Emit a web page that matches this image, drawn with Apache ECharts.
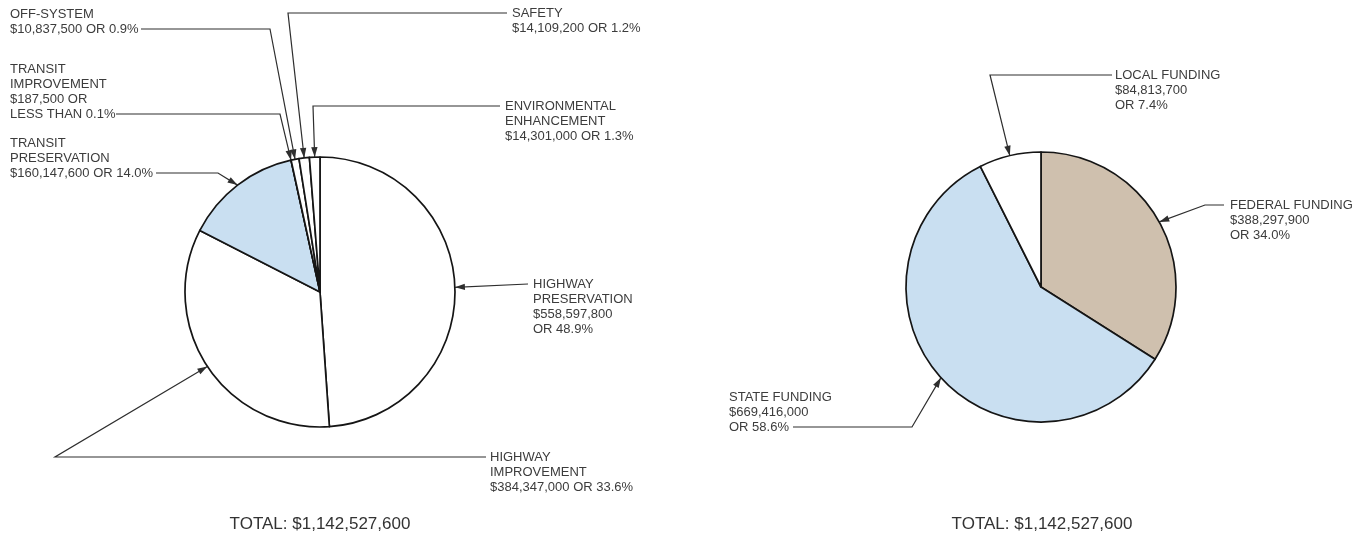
<!DOCTYPE html>
<html>

<head>
  <meta charset="UTF-8">
  <title>Program funding and funding sources</title>
  <script src="https://cdn.jsdelivr.net/npm/echarts@6.0.0/dist/echarts.min.js"></script>
  <style>
    body {
      margin: 0;
      background: #fff;
    }

    #chart {
      width: 1366px;
      height: 535px;
    }
  </style>
</head>

<body>
  <div id="chart"></div>
  <script type="text/javascript">
    // left pie: program categories, clockwise from 12 o'clock
    var programNames = ['HIGHWAY PRESERVATION', 'HIGHWAY IMPROVEMENT', 'TRANSIT PRESERVATION',
      'TRANSIT IMPROVEMENT', 'OFF-SYSTEM', 'SAFETY', 'ENVIRONMENTAL ENHANCEMENT'];
    var programValues = [558597800, 384347000, 160147600, 187500, 10837500, 14109200, 14301000];
    var programLabels = [
      'HIGHWAY\nPRESERVATION\n$558,597,800\nOR 48.9%',
      'HIGHWAY\nIMPROVEMENT\n$384,347,000 OR 33.6%',
      'TRANSIT\nPRESERVATION\n$160,147,600 OR 14.0%',
      'TRANSIT\nIMPROVEMENT\n$187,500 OR\nLESS THAN 0.1%',
      'OFF-SYSTEM\n$10,837,500 OR 0.9%',
      'SAFETY\n$14,109,200 OR 1.2%',
      'ENVIRONMENTAL\nENHANCEMENT\n$14,301,000 OR 1.3%'
    ];
    var programColors = ['#ffffff', '#ffffff', '#c9dff1', '#ffffff', '#ffffff', '#ffffff', '#ffffff'];

    // right pie: funding sources
    var sourceNames = ['FEDERAL FUNDING', 'STATE FUNDING', 'LOCAL FUNDING'];
    var sourceValues = [388297900, 669416000, 84813700];
    var sourceLabels = [
      'FEDERAL FUNDING\n$388,297,900\nOR 34.0%',
      'STATE FUNDING\n$669,416,000\nOR 58.6%',
      'LOCAL FUNDING\n$84,813,700\nOR 7.4%'
    ];
    var sourceColors = ['#cfc0ae', '#c9dff1', '#ffffff'];

    var totalText = 'TOTAL: $1,142,527,600';

    // label top-left corner and the bend/end of each leader line
    var programCallouts = [
      { x: 533, y: 276.5, path: [[528, 284]] },
      { x: 490, y: 449.5, path: [[55, 457], [486, 457]] },
      { x: 10, y: 135.5, path: [[218, 173], [156, 173]] },
      { x: 10, y: 61.5, path: [[280, 114], [116, 114]] },
      { x: 10, y: 6.5, path: [[270, 29], [141, 29]] },
      { x: 512, y: 5.5, path: [[288, 13], [507, 13]] },
      { x: 505, y: 98.5, path: [[313, 106], [500, 106]] }
    ];
    var sourceCallouts = [
      { x: 1230, y: 197.5, path: [[1205, 205], [1224, 205]] },
      { x: 729, y: 389.5, path: [[912, 427], [793, 427]] },
      { x: 1115, y: 67.5, path: [[990, 75], [1112, 75]] }
    ];

    var fontFamily = '"Liberation Sans", Arial, sans-serif';
    var textColor = '#3c3c3c';
    var lineColor = '#2e2e2e';
    var leaders = {};

    var myChart = echarts.init(document.getElementById('chart'));

    function buildData(names, values, colors) {
      return names.map(function (name, i) {
        return { name: name, value: values[i], itemStyle: { color: colors[i] } };
      });
    }

    function placeCallout(callouts, params) {
      var c = callouts[params.dataIndex];
      var tip = params.labelLinePoints[0];
      var pts = [tip].concat(c.path);
      leaders[params.seriesIndex + '-' + params.dataIndex] = [pts[1], tip];
      return {
        x: c.x,
        y: c.y,
        align: 'left',
        verticalAlign: 'top',
        labelLinePoints: pts
      };
    }

    function pieSeries(data, labels, callouts, center) {
      return {
        type: 'pie',
        center: center,
        radius: 135,
        startAngle: 90,
        clockwise: true,
        avoidLabelOverlap: false,
        animation: false,
        silent: true,
        data: data,
        itemStyle: {
          borderColor: '#151515',
          borderWidth: 1.7
        },
        label: {
          show: true,
          position: 'outside',
          formatter: function (p) {
            return labels[p.dataIndex];
          },
          fontFamily: fontFamily,
          fontSize: 13,
          lineHeight: 15,
          color: textColor
        },
        labelLine: {
          show: true,
          smooth: false,
          lineStyle: {
            color: lineColor,
            width: 1.2
          }
        },
        labelLayout: function (params) {
          return placeCallout(callouts, params);
        },
        emphasis: { disabled: true }
      };
    }

    var option = {
      backgroundColor: '#fff',
      animation: false,
      graphic: [
        {
          id: 'total-left', type: 'text', x: 320, y: 524, z: 100,
          style: { text: totalText, fontFamily: fontFamily, fontSize: 17, fill: '#333', align: 'center', verticalAlign: 'middle' }
        },
        {
          id: 'total-right', type: 'text', x: 1042, y: 524, z: 100,
          style: { text: totalText, fontFamily: fontFamily, fontSize: 17, fill: '#333', align: 'center', verticalAlign: 'middle' }
        }
      ],
      series: [
        pieSeries(buildData(programNames, programValues, programColors), programLabels, programCallouts, [320, 292]),
        pieSeries(buildData(sourceNames, sourceValues, sourceColors), sourceLabels, sourceCallouts, [1041, 287])
      ]
    };
    myChart.setOption(option);

    // arrowheads at the pie edge, pointing along the last leader segment
    function arrowHeads() {
      var out = [];
      Object.keys(leaders).forEach(function (key) {
        var from = leaders[key][0], tip = leaders[key][1];
        var dx = tip[0] - from[0], dy = tip[1] - from[1];
        var len = Math.sqrt(dx * dx + dy * dy) || 1;
        dx /= len; dy /= len;
        var bx = tip[0] - dx * 10, by = tip[1] - dy * 10;
        out.push({
          id: 'arrow-' + key,
          type: 'polygon',
          z: 100,
          shape: { points: [tip, [bx - dy * 3.2, by + dx * 3.2], [bx + dy * 3.2, by - dx * 3.2]] },
          style: { fill: lineColor }
        });
      });
      return out;
    }

    myChart.setOption({ graphic: arrowHeads() });
  </script>
</body>

</html>
